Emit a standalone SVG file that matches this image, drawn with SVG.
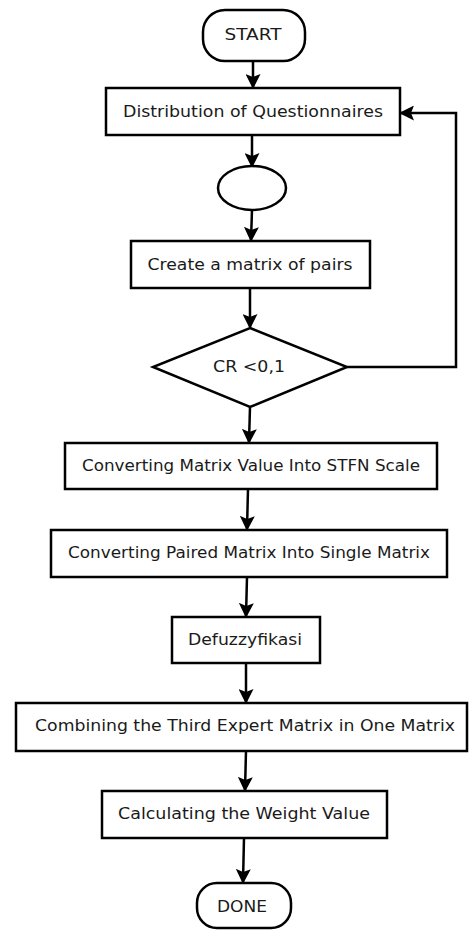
<svg xmlns="http://www.w3.org/2000/svg" width="469" height="931" viewBox="0 0 469 931">
<style>
.s{fill:#fff;stroke:#000;stroke-width:2.5}
.t{font-family:"DejaVu Sans",Verdana,sans-serif;font-size:15px;fill:#1a1a1a;text-anchor:middle;dominant-baseline:central}
.c{fill:none;stroke:#000;stroke-width:2.5}
</style>
<defs>
<marker id="a" markerWidth="6" markerHeight="6" refX="5.2" refY="3" orient="auto" markerUnits="strokeWidth">
<path d="M0,0 L6,3 L0,6 L1.2,3 Z" fill="#000"/>
</marker>
</defs>
<rect width="469" height="931" fill="#fff"/>
<g id="connectors">
<line class="c" x1="253" y1="61" x2="253" y2="87" marker-end="url(#a)"/>
<line class="c" x1="252" y1="135" x2="252" y2="166" marker-end="url(#a)"/>
<line class="c" x1="252" y1="210" x2="251" y2="240" marker-end="url(#a)"/>
<line class="c" x1="250" y1="288" x2="250" y2="327" marker-end="url(#a)"/>
<polyline class="c" points="347,367 456,367 456,113 401,113" marker-end="url(#a)"/>
<line class="c" x1="250" y1="407" x2="249" y2="442" marker-end="url(#a)"/>
<line class="c" x1="248" y1="489" x2="247" y2="529" marker-end="url(#a)"/>
<line class="c" x1="247" y1="577" x2="246" y2="616" marker-end="url(#a)"/>
<line class="c" x1="246" y1="663" x2="246" y2="702" marker-end="url(#a)"/>
<line class="c" x1="246" y1="751" x2="245" y2="790" marker-end="url(#a)"/>
<line class="c" x1="244" y1="838" x2="243" y2="882" marker-end="url(#a)"/>
</g>
<g id="start">
<rect class="s" x="203" y="10" width="102" height="51" rx="22"/>
<text class="t" x="253" y="35" textLength="57" lengthAdjust="spacingAndGlyphs">START</text>
</g>
<g id="distribution">
<rect class="s" x="106" y="88" width="294" height="47"/>
<text class="t" x="253" y="112" textLength="260" lengthAdjust="spacingAndGlyphs">Distribution of Questionnaires</text>
</g>
<g id="connector-circle">
<ellipse class="s" cx="252" cy="188" rx="34" ry="22"/>
</g>
<g id="matrix-pairs">
<rect class="s" x="131" y="241" width="239" height="47"/>
<text class="t" x="250" y="265" textLength="205" lengthAdjust="spacingAndGlyphs">Create a matrix of pairs</text>
</g>
<g id="cr-decision">
<polygon class="s" points="250,328 347,367 250,407 153,367"/>
<text class="t" x="249" y="367" textLength="72" lengthAdjust="spacingAndGlyphs">CR &lt;0,1</text>
</g>
<g id="stfn">
<rect class="s" x="65" y="443" width="372" height="46"/>
<text class="t" x="251" y="466" textLength="338" lengthAdjust="spacingAndGlyphs">Converting Matrix Value Into STFN Scale</text>
</g>
<g id="single-matrix">
<rect class="s" x="51" y="530" width="396" height="47"/>
<text class="t" x="249" y="553" textLength="362" lengthAdjust="spacingAndGlyphs">Converting Paired Matrix Into Single Matrix</text>
</g>
<g id="defuzzy">
<rect class="s" x="172" y="617" width="148" height="46"/>
<text class="t" x="245" y="640" textLength="114" lengthAdjust="spacingAndGlyphs">Defuzzyfikasi</text>
</g>
<g id="combining">
<rect class="s" x="16" y="703" width="451" height="48"/>
<text class="t" x="245" y="726" textLength="420" lengthAdjust="spacingAndGlyphs">Combining the Third Expert Matrix in One Matrix</text>
</g>
<g id="weight">
<rect class="s" x="102" y="791" width="285" height="47"/>
<text class="t" x="244" y="814" textLength="252" lengthAdjust="spacingAndGlyphs">Calculating the Weight Value</text>
</g>
<g id="done">
<rect class="s" x="197" y="883" width="94" height="45" rx="20"/>
<text class="t" x="242" y="907" textLength="50" lengthAdjust="spacingAndGlyphs">DONE</text>
</g>
</svg>
